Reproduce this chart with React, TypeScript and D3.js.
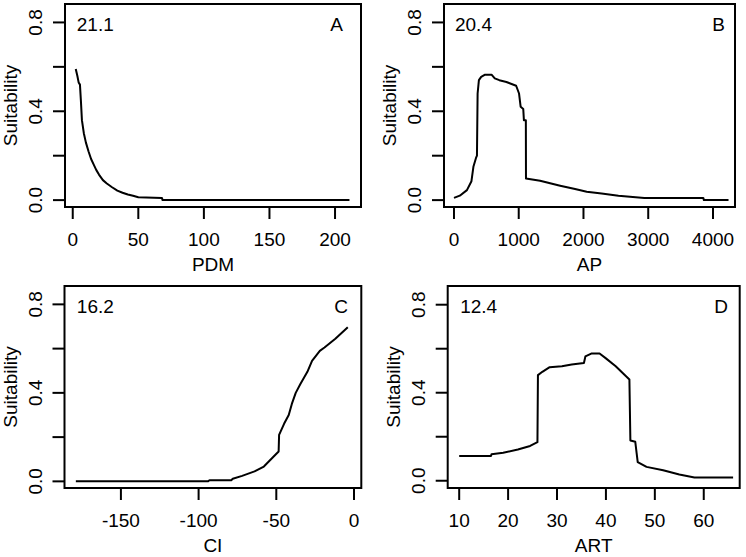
import React from "react";
import * as d3 from "d3";

// ---- Data ----
const pdmData: [number, number][] = [
  [2.3, 0.59], [3.5, 0.56], [4.5, 0.53], [5.5, 0.52], [6.2, 0.45], [7, 0.36],
  [8.5, 0.3], [10, 0.26], [12, 0.22], [14, 0.185], [16, 0.16], [18, 0.135],
  [20, 0.115], [23, 0.09], [26, 0.075], [30, 0.058], [34, 0.043], [38, 0.033],
  [42, 0.025], [46, 0.02], [50, 0.013], [68, 0.01], [68.5, 0.0], [211, 0.0],
];
const apData: [number, number][] = [
  [0, 0.01], [90, 0.02], [200, 0.045], [270, 0.085], [300, 0.15], [340, 0.19],
  [355, 0.2], [365, 0.48], [385, 0.54], [420, 0.555], [480, 0.565], [580, 0.565],
  [630, 0.548], [700, 0.54], [810, 0.532], [960, 0.515], [1005, 0.48], [1030, 0.42],
  [1070, 0.41], [1080, 0.36], [1110, 0.36], [1112, 0.097], [1330, 0.087],
  [1640, 0.065], [1870, 0.05], [2050, 0.038], [2280, 0.03], [2540, 0.02],
  [2940, 0.01], [3850, 0.01], [3860, 0.0], [4240, 0.0],
];
const ciData: [number, number][] = [
  [-179, 0], [-94, 0], [-93, 0.005], [-79, 0.005], [-78, 0.012], [-72, 0.025],
  [-68, 0.035], [-64, 0.045], [-58, 0.067], [-52, 0.11], [-48.5, 0.135],
  [-48.2, 0.21], [-45, 0.26], [-42, 0.3], [-40, 0.35], [-37.5, 0.4], [-34.5, 0.44],
  [-30, 0.495], [-27, 0.545], [-22, 0.59], [-19, 0.605], [-12, 0.645], [-4, 0.697],
];
const artData: [number, number][] = [
  [10, 0.112], [16.5, 0.112], [16.6, 0.12], [19, 0.127], [22, 0.142], [24.5, 0.158],
  [26, 0.175], [26.1, 0.48], [27, 0.495], [28.5, 0.516], [31, 0.52], [33, 0.528],
  [35.5, 0.535], [35.8, 0.565], [37, 0.578], [38.7, 0.578], [40, 0.556], [42, 0.52],
  [44.8, 0.46], [45, 0.183], [46, 0.177], [46.5, 0.085], [48.3, 0.063],
  [51.7, 0.048], [55, 0.028], [58.1, 0.015], [66, 0.015],
];

const pdmTicks = [0, 50, 100, 150, 200];
const apTicks = [0, 1000, 2000, 3000, 4000];
const ciTicks = [-150, -100, -50, 0];
const artTicks = [10, 20, 30, 40, 50, 60];
const yTicks = [0, 0.2, 0.4, 0.6, 0.8];
const yTickLabels = [0, 0.4, 0.8];

const xTitles = ["PDM", "AP", "CI", "ART"];
const contributions = ["21.1", "20.4", "16.2", "12.4"];
const panelLetters = ["A", "B", "C", "D"];
const yTitle = "Suitability";

// ---- Layout ----
const FONT = "'Liberation Sans', Arial, Helvetica, sans-serif";
const FS = 19;

type Cfg = {
  data: [number, number][];
  ticks: number[];
  xDomain: [number, number];
  yDomain: [number, number];
  left: number; right: number; top: number; bottom: number;
  title: string; num: string; letter: string; letterRight: number;
};

const cfgs: Cfg[] = [
  { data: pdmData, ticks: pdmTicks, xDomain: [-5.9, 219.8], yDomain: [-0.031, 0.883],
    left: 65, right: 361, top: 4, bottom: 207, title: xTitles[0], num: contributions[0],
    letter: panelLetters[0], letterRight: 343 },
  { data: apData, ticks: apTicks, xDomain: [-154, 4340], yDomain: [-0.031, 0.883],
    left: 444, right: 735, top: 4, bottom: 207, title: xTitles[1], num: contributions[1],
    letter: panelLetters[1], letterRight: 725 },
  { data: ciData, ticks: ciTicks, xDomain: [-186.3, 4.7], yDomain: [-0.03, 0.883],
    left: 64.5, right: 361.3, top: 286, bottom: 488, title: xTitles[2], num: contributions[2],
    letter: panelLetters[2], letterRight: 348 },
  { data: artData, ticks: artTicks, xDomain: [7.65, 67.35], yDomain: [-0.033, 0.885],
    left: 447.7, right: 739.7, top: 286, bottom: 488, title: xTitles[3], num: contributions[3],
    letter: panelLetters[3], letterRight: 728 },
];

function Panel({ c }: { c: Cfg }) {
  const x = d3.scaleLinear().domain(c.xDomain).range([c.left, c.right]);
  const y = d3.scaleLinear().domain(c.yDomain).range([c.bottom, c.top]);
  const line = d3.line<[number, number]>().x((d) => x(d[0])).y((d) => y(d[1]));
  const xMin = d3.min(c.data, (d) => d[0]) as number;
  return (
    <g>
      <rect x={c.left} y={c.top} width={c.right - c.left} height={c.bottom - c.top}
        fill="none" stroke="#000" strokeWidth={2} />
      {yTicks.map((t) => (
        <line key={"yt" + t} x1={c.left - 12} x2={c.left} y1={y(t)} y2={y(t)} stroke="#000" strokeWidth={2} />
      ))}
      {yTickLabels.map((t) => (
        <text key={"yl" + t} transform={`translate(${c.left - 23},${y(t)}) rotate(-90)`}
          textAnchor="middle" fontSize={FS} fontFamily={FONT} fill="#000">{t.toFixed(1)}</text>
      ))}
      {c.ticks.map((t) => (
        <line key={"xt" + t} x1={x(t)} x2={x(t)} y1={c.bottom} y2={c.bottom + 12} stroke="#000" strokeWidth={2} />
      ))}
      {c.ticks.map((t) => (
        <text key={"xl" + t} x={x(t)} y={c.bottom + 39} textAnchor="middle" fontSize={FS}
          fontFamily={FONT} fill="#000">{String(t)}</text>
      ))}
      <text x={(c.left + c.right) / 2} y={c.bottom + 64} textAnchor="middle" fontSize={FS}
        fontFamily={FONT} fill="#000">{c.title}</text>
      <text transform={`translate(${c.left - 48},${(c.top + c.bottom) / 2}) rotate(-90)`}
        textAnchor="middle" fontSize={FS} fontFamily={FONT} fill="#000">{yTitle}</text>
      <path d={line(c.data) || ""} fill="none" stroke="#000" strokeWidth={2} strokeLinejoin="round" />
      <text x={x(xMin) + 1} y={c.top + 27} fontSize={FS} fontFamily={FONT} fill="#000">{c.num}</text>
      <text x={c.letterRight} y={c.top + 27} textAnchor="end" fontSize={FS} fontFamily={FONT} fill="#000">{c.letter}</text>
    </g>
  );
}

export default function App() {
  return (
    <svg width={746} height={557} style={{ position: "absolute", left: 0, top: 0, background: "#fff" }}>
      <rect x={0} y={0} width={746} height={557} fill="#fff" />
      {cfgs.map((c, i) => (
        <Panel key={i} c={c} />
      ))}
    </svg>
  );
}
